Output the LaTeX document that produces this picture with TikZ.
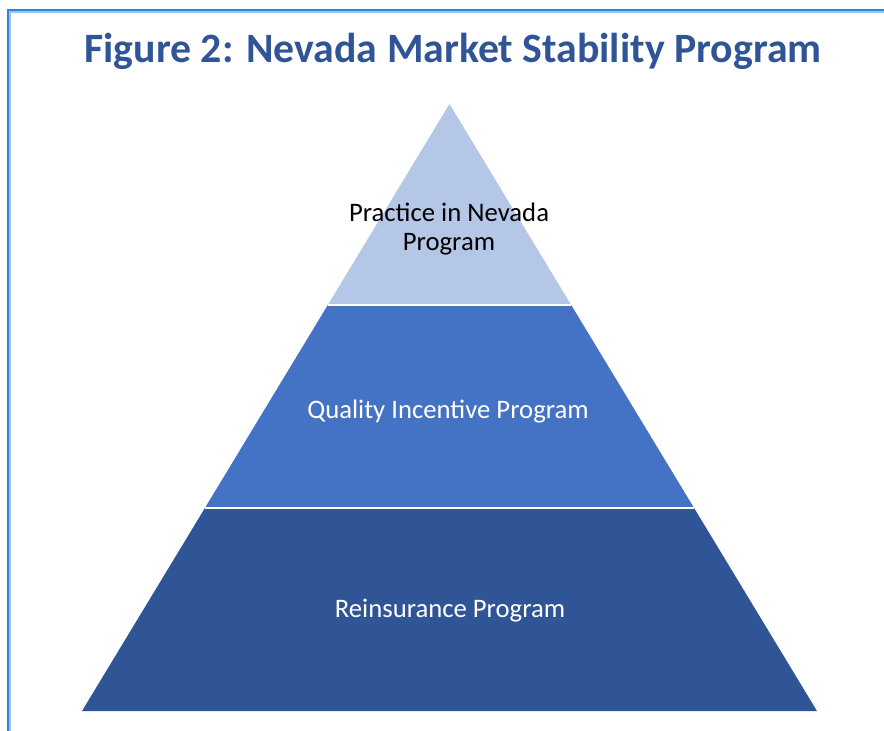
\documentclass[tikz,border=0pt]{standalone}
\usepackage{fontspec}
\setmainfont{Carlito}
\usetikzlibrary{calc}
\definecolor{tierlight}{HTML}{B4C7E7}
\definecolor{tiermid}{HTML}{4472C4}
\definecolor{tierdark}{HTML}{2F5597}
\definecolor{frameout}{HTML}{2E86D2}
\definecolor{framein}{HTML}{9DC3E6}
\tikzset{tier label/.style={font=\fontsize{26.7}{29}\selectfont, align=center, anchor=base, inner sep=0pt},
         frame line/.style={line width=2pt}}

\begin{document}
\begin{tikzpicture}[x=1pt,y=-1pt]
  \useasboundingbox (0,0) rectangle (884,731);
  \draw[frame line,frameout] (8,731) -- (8,10) -- (884,10);
  \draw[frame line,framein] (10,731) -- (10,12) -- (884,12);
  \node[anchor=base,inner sep=0pt,text=tierdark,font=\fontsize{41.8}{48}\selectfont\bfseries] (title) at (453,62) {Figure 2: Nevada Market Stability Program};
  \coordinate (apex) at (449.5,104);
  \coordinate (baseL) at (82,711);
  \coordinate (baseR) at (817,711);
  \coordinate (upperL) at ($(apex)!0.3311!(baseL)$);
  \coordinate (upperR) at ($(apex)!0.3311!(baseR)$);
  \coordinate (lowerL) at ($(apex)!0.6656!(baseL)$);
  \coordinate (lowerR) at ($(apex)!0.6656!(baseR)$);
  \fill[tierlight] (apex) -- (upperR) -- (upperL) -- cycle;
  \fill[tiermid] (upperL) -- (upperR) -- (lowerR) -- (lowerL) -- cycle;
  \fill[tierdark] (lowerL) -- (lowerR) -- (baseR) -- (baseL) -- cycle;
  \foreach \lvl in {upper,lower}
    \draw[white,line width=1.5pt] (\lvl L) -- (\lvl R);
  \node[tier label,text=black] (practice) at (449,250) {Practice in Nevada\\Program};
  \node[tier label,text=white] (quality) at (448,418) {Quality Incentive Program};
  \node[tier label,text=white] (reinsurance) at (450,617) {Reinsurance Program};
\end{tikzpicture}
\end{document}
